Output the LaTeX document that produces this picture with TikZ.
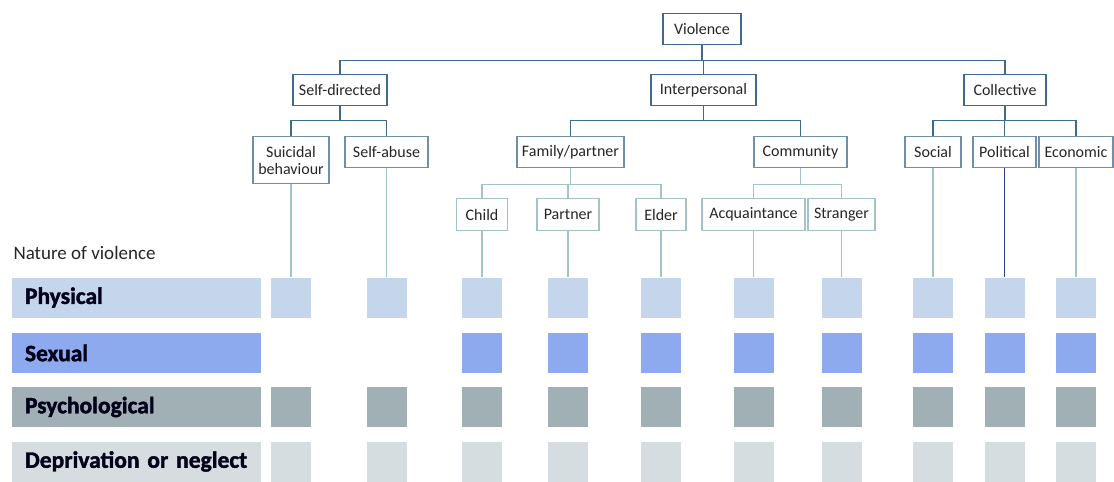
\documentclass[tikz,border=0pt]{standalone}
\usepackage{fontspec}
\setmainfont{Carlito}
\newfontfamily\heavy[BoldFeatures={FakeBold=1.6}]{Carlito}
\definecolor{phys}{HTML}{C5D6EC}
\definecolor{sex}{HTML}{8EAAEF}
\definecolor{psych}{HTML}{A0B0B5}
\definecolor{depr}{HTML}{D6DDE1}
\definecolor{topline}{HTML}{3F6A8E}
\definecolor{midline}{HTML}{6F90A8}
\definecolor{leafline}{HTML}{A3C3CB}
\definecolor{navy}{HTML}{24418A}
\begin{document}
\begin{tikzpicture}[x=1pt, y=-1pt, font=\fontsize{16}{17}\selectfont, text=black!85,
	box/.style={draw=#1, fill=white, line width=1.2pt, minimum height=31pt, inner sep=1pt, align=center, anchor=north},
	link/.style={draw=#1, line width=1.2pt},
	cell/.style={fill=#1, minimum width=40pt, minimum height=40pt, inner sep=0pt},
	bar/.style={fill=#1, minimum height=40pt, inner xsep=13pt, inner ysep=0pt, text width=223pt, align=left, text=black!90!blue, font=\heavy\bfseries\fontsize{23.5}{23.5}\selectfont}]
		\useasboundingbox (0,0) rectangle (1114,482);
		\node[box=topline, minimum width=78pt] (violence) at (702,13) {Violence};
		\node[box=topline, minimum width=94pt] (selfdir) at (340,74) {Self-directed};
		\node[box=topline, minimum width=105pt] (interp) at (703.5,74) {Interpersonal};
		\node[box=topline, minimum width=82pt] (collect) at (1005,74) {Collective};
		\node[box=midline, minimum width=76pt, minimum height=47pt] (suicidal) at (291,136) {Suicidal\\behaviour};
		\node[box=midline, minimum width=83pt] (selfabuse) at (386.5,136) {Self-abuse};
		\node[box=midline, minimum width=107pt] (family) at (570.5,136) {Family/partner};
		\node[box=midline, minimum width=93pt] (community) at (800.5,136) {Community};
		\node[box=midline, minimum width=56pt] (social) at (933,136) {Social};
		\node[box=midline, minimum width=63pt] (political) at (1004.5,136) {Political};
		\node[box=midline, minimum width=74pt] (economic) at (1076,136) {Economic};
		\node[box=leafline, minimum width=51pt, minimum height=32pt] (child) at (482,198) {Child};
		\node[box=leafline, minimum width=62pt, minimum height=32pt] (partner) at (568,198) {Partner};
		\node[box=leafline, minimum width=50pt, minimum height=32pt] (elder) at (661,198) {Elder};
		\node[box=leafline, minimum width=103pt, minimum height=32pt] (acquaint) at (753.5,198) {Acquaintance};
		\node[box=leafline, minimum width=67pt, minimum height=32pt] (stranger) at (841.5,198) {Stranger};

		\foreach \c in {selfdir, interp, collect}
			\draw[link=topline] (violence.south) -- ++(0,15) -| (\c.north);
		\foreach \p/\c in {selfdir/suicidal, selfdir/selfabuse, interp/family, interp/community, collect/social, collect/political, collect/economic}
			\draw[link=topline] (\p.south) -- ++(0,14) -| (\c.north);
		\foreach \p/\c in {family/child, family/partner, family/elder, community/acquaint, community/stranger}
			\draw[link=leafline] (\p.south) -- ++(0,16) -| (\c.north);

		\node[anchor=west, font=\fontsize{19}{20}\selectfont] (nature) at (10,253) {Nature of violence};
		\foreach \r/\y/\t in {phys/297.5/Physical, sex/353/Sexual, psych/407/Psychological, depr/461.5/Deprivation or neglect}
			\node[bar=\r] (\r-label) at (136.5,\y) {\t};
		\foreach \c in {suicidal, selfabuse, child, partner, elder, acquaint, stranger, social, political, economic}
			\foreach \r/\y in {phys/297.5, psych/407, depr/461.5}
				\node[cell=\r] (\r-\c) at (\c |- 0,\y) {};
		\foreach \c in {child, partner, elder, acquaint, stranger, social, political, economic}
			\node[cell=sex] (sex-\c) at (\c |- 0,353) {};
		\foreach \c in {suicidal, selfabuse, child, partner, elder, acquaint, stranger, social, economic}
			\draw[link=leafline] (\c.south) -- (phys-\c.north);
		\draw[link=navy] (political.south) -- (phys-political.north);
\end{tikzpicture}
\end{document}
